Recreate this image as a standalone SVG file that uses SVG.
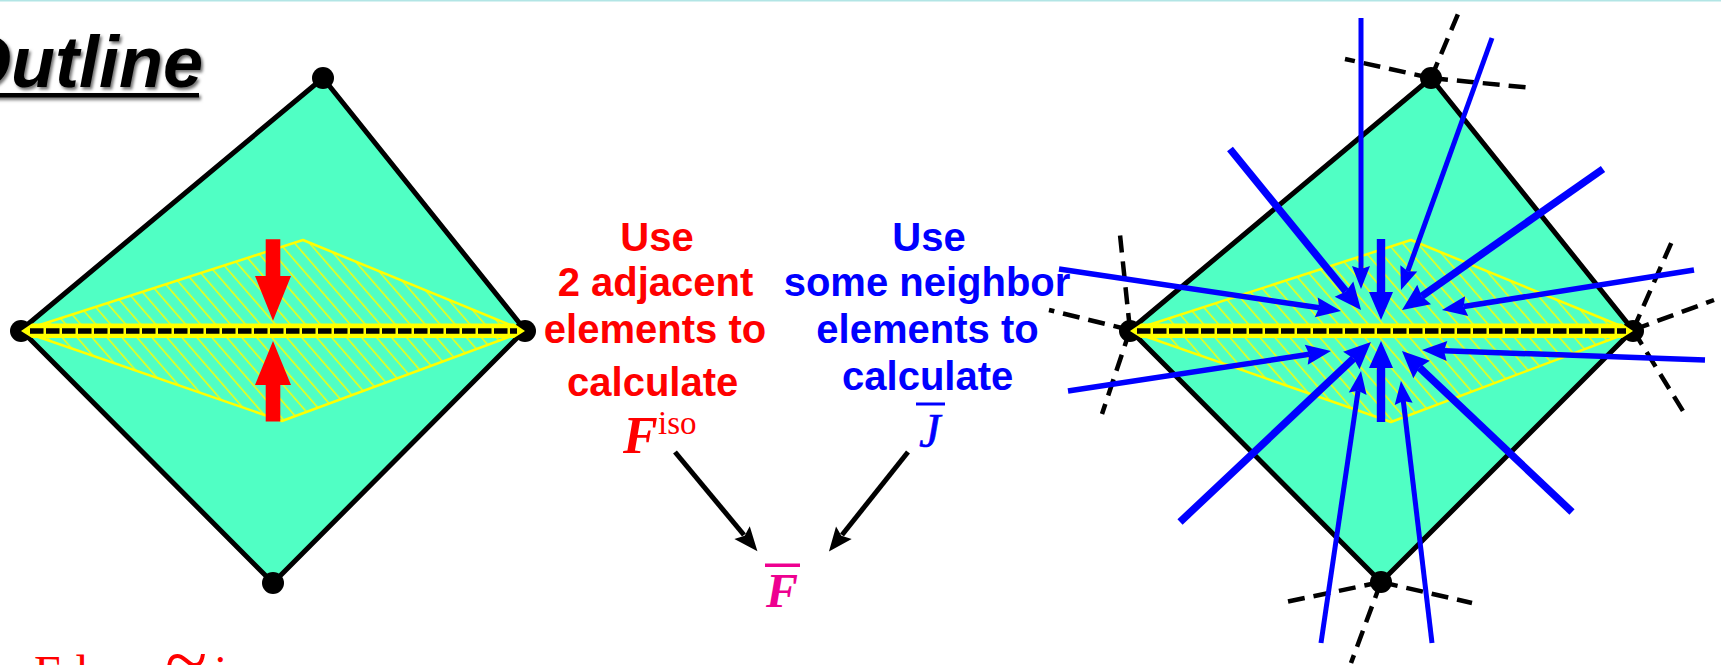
<svg xmlns="http://www.w3.org/2000/svg" width="1721" height="665" viewBox="0 0 1721 665">
<style>
.sans{font-family:"Liberation Sans",Arial,sans-serif;font-weight:bold;font-size:40px;text-anchor:middle}
.serif{font-family:"Liberation Serif","Times New Roman",serif}
.math{font-weight:bold;font-style:italic}
.red{fill:#ff0000}.blue{fill:#0000ff}.mag{fill:#ee0090}
.dia{fill:#50ffc4;stroke:#000;stroke-width:5;stroke-linejoin:round}
.hatch{fill:url(#h);stroke:#ffff00;stroke-width:2.500;stroke-linejoin:round}
.band{fill:#ffff00}
.mid{stroke:#000;stroke-width:5.500;stroke-dasharray:13.500 2.500;fill:none}
.node{fill:#000}
.dash{stroke:#000;stroke-width:4.500;stroke-dasharray:17 9;fill:none}
.a{stroke:#0000ff;fill:none}
.thin{stroke-width:5;marker-end:url(#bs)}
.med{stroke-width:5.500;marker-end:url(#bm)}
.thick{stroke-width:7.500;marker-end:url(#bl)}
.k{stroke:#000;stroke-width:5;fill:none;marker-end:url(#k)}
</style>
<defs>
<pattern id="h" width="11.3" height="11.3" patternUnits="userSpaceOnUse" patternTransform="rotate(49)">
<rect width="11.3" height="11.3" fill="#50ffc4"/>
<line x1="0" y1="5" x2="11.3" y2="5" stroke="#ffff00" stroke-width="1.4"/>
</pattern>
<marker id="bs" markerUnits="userSpaceOnUse" markerWidth="30" markerHeight="24" refX="3" refY="12" orient="auto" overflow="visible"><path d="M23 12L0 3L3 12L0 21Z" fill="#0000ff"/></marker>
<marker id="bm" markerUnits="userSpaceOnUse" markerWidth="32" markerHeight="26" refX="3" refY="13" orient="auto" overflow="visible"><path d="M25 13L0 3L3 13L0 23Z" fill="#0000ff"/></marker>
<marker id="bl" markerUnits="userSpaceOnUse" markerWidth="34" markerHeight="30" refX="3" refY="15" orient="auto" overflow="visible"><path d="M27 15L0 3L3 15L0 27Z" fill="#0000ff"/></marker>
<marker id="k" markerUnits="userSpaceOnUse" markerWidth="30" markerHeight="26" refX="3" refY="13" orient="auto" overflow="visible"><path d="M24 13L0 3L4 13L0 23Z" fill="#000"/></marker>
<filter id="sh" x="-10%" y="-10%" width="125%" height="130%"><feDropShadow dx="2" dy="2.500" stdDeviation="1.600" flood-color="#000" flood-opacity="0.55"/></filter>
</defs>
<rect width="1721" height="665" fill="#fff"/>
<rect width="1721" height="1.500" fill="#b2e5e5"/>
<g id="title" filter="url(#sh)">
<text x="-45" y="87" font-family="'Liberation Sans',Arial,sans-serif" font-weight="bold" font-style="italic" font-size="72">Outline</text>
<rect x="-10" y="93" width="209" height="4.500" fill="#000"/>
</g>
<g id="left-element">
<path class="dia" d="M323 78L525 330L273 583L21 330Z"/>
<path class="hatch" d="M21 331L303 240L525 331L282 421Z"/>
<circle class="node" cx="323" cy="78" r="11"/><circle class="node" cx="21" cy="331" r="11"/><circle class="node" cx="525" cy="331" r="11"/><circle class="node" cx="273" cy="583" r="11"/>
<path class="band" d="M21 331L32 323.500H514L525 331L514 338H32Z"/>
<line class="mid" x1="30" y1="331" x2="517" y2="331"/>
<path class="red" d="M265.700 239.300H280.300V276H291L273 320.700L255 276H265.700Z"/>
<path class="red" d="M265.700 421.500H280.300V385H291L273 341L255 385H265.700Z"/>
</g>
<g id="label-red">
<text class="sans red" x="657" y="251">Use</text>
<text class="sans red" x="655.500" y="296">2 adjacent</text>
<text class="sans red" x="655" y="343">elements to</text>
<text class="sans red" x="652.700" y="396">calculate</text>
<text class="serif math red" x="623" y="453" font-size="52">F</text>
<text class="serif red" x="658" y="434" font-size="33">iso</text>
</g>
<g id="label-blue">
<text class="sans blue" x="929" y="251">Use</text>
<text class="sans blue" x="927" y="296">some neighbor</text>
<text class="sans blue" x="927.500" y="343">elements to</text>
<text class="sans blue" x="927.700" y="390">calculate</text>
<text class="serif blue" font-style="italic" x="919" y="447" font-size="48" stroke="#0000ff" stroke-width="0.6">J</text>
<rect class="blue" x="916" y="402.500" width="29" height="3"/>
</g>
<g id="label-fbar">
<text class="serif math mag" x="766" y="607" font-size="48">F</text>
<rect class="mag" x="765" y="563.500" width="35" height="3.500"/>
</g>
<g id="right-element">
<path class="dia" d="M1431 78L1633 330L1381 582L1130 330Z"/>
<path class="hatch" d="M1130 331L1411 240L1633 331L1391 422Z"/>
<path class="dash" d="M1431 78L1461 7"/><path class="dash" d="M1431 78L1345 59"/><path class="dash" d="M1431 78L1532 88"/>
<path class="dash" d="M1130 330L1119.500 230"/><path class="dash" d="M1130 330L1049 310"/><path class="dash" d="M1130 330L1102 414"/>
<path class="dash" d="M1633 330L1673 239"/><path class="dash" d="M1633 330L1714 300"/><path class="dash" d="M1633 330L1683 411"/>
<path class="dash" d="M1381 582L1281 603"/><path class="dash" d="M1381 582L1472 603"/><path class="dash" d="M1381 582L1351 663"/>
<circle class="node" cx="1431" cy="78" r="11"/><circle class="node" cx="1130" cy="331" r="11"/><circle class="node" cx="1633" cy="331" r="11"/><circle class="node" cx="1381" cy="582" r="11"/>
<path class="band" d="M1130 331L1141 323.500H1622L1633 331L1622 338H1141Z"/>
<line class="mid" x1="1137" y1="331" x2="1626" y2="331"/>
</g>
<g id="connectors">
<line class="k" x1="675" y1="452" x2="744" y2="535"/>
<line class="k" x1="908" y1="452" x2="842" y2="535"/>
<line class="a thin" x1="1361" y1="18" x2="1361" y2="269"/>
<line class="a thin" x1="1492" y1="38" x2="1407.800" y2="271.200"/>
<line class="a thick" x1="1230" y1="149" x2="1345.900" y2="291.400"/>
<line class="a thick" x1="1603" y1="169" x2="1421.700" y2="296.200"/>
<line class="a med" x1="1059" y1="269" x2="1319.200" y2="307.800"/>
<line class="a med" x1="1694" y1="270" x2="1463.700" y2="306.500"/>
<line class="a med" x1="1068" y1="391" x2="1309.200" y2="354.300"/>
<line class="a med" x1="1705" y1="360" x2="1444" y2="350.800"/>
<line class="a thick" x1="1180" y1="522" x2="1353.500" y2="358.500"/>
<line class="a thick" x1="1572" y1="512" x2="1419.400" y2="367.500"/>
<line class="a thin" x1="1321" y1="643" x2="1358.100" y2="390.800"/>
<line class="a thin" x1="1432" y1="643" x2="1403.300" y2="400.900"/>
<path class="blue" d="M1376.800 239H1385.200V292H1393L1381 320L1369 292H1376.800Z"/>
<path class="blue" d="M1376.800 422H1385.200V368H1393L1381 341L1369 368H1376.800Z"/>
</g>
<g id="footer">
<text class="serif red" x="34" y="689" font-size="48">Ed</text>
<text class="serif red" x="165" y="686" font-size="78">~</text>
<text class="serif red" x="214" y="689" font-size="48">i</text>
</g>
</svg>
